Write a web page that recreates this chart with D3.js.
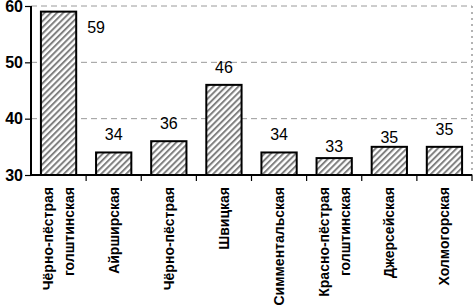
<!DOCTYPE html>
<html>
<head>
<meta charset="utf-8">
<script src="https://cdn.jsdelivr.net/npm/d3@7"></script>
<style>
  html, body { margin: 0; padding: 0; background: #fff; }
  svg { display: block; font-family: "Liberation Sans", Arial, sans-serif; }
</style>
</head>
<body>
<div id="chart"></div>
<script>
// breeds (label lines) and values
const breeds = [
  ["Чёрно-пёстрая", "голштинская"],
  ["Айрширская"],
  ["Чёрно-пёстрая"],
  ["Швицкая"],
  ["Симментальская"],
  ["Красно-пёстрая", "голштинская"],
  ["Джерсейская"],
  ["Холмогорская"],
];
const values = [59, 34, 36, 46, 34, 33, 35, 35];
const yTicks = [30, 40, 50, 60];

// small per-label vertical nudges seen in the original
const labelNudge = [0, 0, 0, 0, 0, 6, 8, 0];

const W = 475, H = 308;
const margin = { top: 6, right: 3, bottom: 133, left: 31 };

const svg = d3.select("#chart").append("svg").attr("width", W).attr("height", H);

const defs = svg.append("defs");
const pat = defs.append("pattern")
  .attr("id", "hatch").attr("patternUnits", "userSpaceOnUse")
  .attr("width", 4.4).attr("height", 4.4)
  .attr("patternTransform", "rotate(45)");
pat.append("rect").attr("width", 4.4).attr("height", 4.4).attr("fill", "#fff");
pat.append("rect").attr("width", 2).attr("height", 4.4).attr("fill", "#808080");

const idx = values.map((_, i) => i);
const x = d3.scaleBand().domain(idx)
  .range([margin.left, W - margin.right])
  .paddingInner(0.36).paddingOuter(0.18);
const y = d3.scaleLinear().domain([30, 60]).range([H - margin.bottom, margin.top]);

// gridlines
svg.append("g").selectAll("line").data(yTicks.filter(t => t > 30)).join("line")
  .attr("x1", margin.left).attr("x2", W - margin.right)
  .attr("y1", d => y(d)).attr("y2", d => y(d))
  .attr("stroke", "#9a9a9a").attr("stroke-width", 1)
  .attr("stroke-dasharray", "6,4");

// right border (dotted)
svg.append("line")
  .attr("x1", W - margin.right).attr("x2", W - margin.right)
  .attr("y1", margin.top).attr("y2", y(30))
  .attr("stroke", "#9a9a9a").attr("stroke-width", 1.5)
  .attr("stroke-dasharray", "2,4");

// bars
svg.append("g").selectAll("rect").data(values).join("rect")
  .attr("x", (d, i) => x(i))
  .attr("y", d => y(d))
  .attr("width", x.bandwidth())
  .attr("height", d => y(30) - y(d))
  .attr("fill", "url(#hatch)")
  .attr("stroke", "#000").attr("stroke-width", 2);

// value labels
svg.append("g").selectAll("text").data(values).join("text")
  .attr("x", (d, i) => i === 0 ? x(i) + x.bandwidth() + 11 : x(i) + x.bandwidth() / 2)
  .attr("y", (d, i) => i === 0 ? y(d) + 21 : y(d) - 12 + labelNudge[i])
  .attr("text-anchor", (d, i) => i === 0 ? "start" : "middle")
  .attr("font-size", 16)
  .attr("fill", "#000")
  .text(d => d);

// y axis
const yAxis = svg.append("g").attr("transform", `translate(${margin.left},0)`)
  .call(d3.axisLeft(y).tickValues(yTicks).tickSize(6).tickPadding(2).tickFormat(d3.format("d")));
yAxis.select(".domain").attr("stroke", "#000").attr("stroke-width", 2)
  .attr("d", `M0,${y(60)}V${y(30)}`);
yAxis.selectAll(".tick line").attr("stroke", "#000").attr("stroke-width", 1.2);
yAxis.selectAll(".tick text")
  .attr("font-family", "'Liberation Sans', Arial, sans-serif")
  .attr("font-size", 16).attr("font-weight", "bold").attr("fill", "#000");

// x axis line and boundary ticks
const x0 = margin.left, x1 = W - margin.right, yb = y(30);
svg.append("line").attr("x1", x0 - 1).attr("x2", x1).attr("y1", yb).attr("y2", yb)
  .attr("stroke", "#000").attr("stroke-width", 2);
svg.append("g").selectAll("line").data(d3.range(1, values.length + 1)).join("line")
  .attr("x1", k => x0 + k * x.step()).attr("x2", k => x0 + k * x.step())
  .attr("y1", yb).attr("y2", yb + 6)
  .attr("stroke", "#000").attr("stroke-width", 1.2);

// category labels (rotated)
const lineGap = 21;
const cat = svg.append("g").selectAll("g").data(breeds).join("g")
  .attr("transform", (d, i) => `translate(${x(i) + x.bandwidth() / 2},187)`);
cat.each(function (lines) {
  const g = d3.select(this);
  lines.forEach((t, j) => {
    const off = (j - (lines.length - 1) / 2) * lineGap;
    g.append("text")
      .attr("transform", `translate(${off},0) rotate(-90)`)
      .attr("text-anchor", "end")
      .attr("dy", "0.36em")
      .attr("font-size", 14).attr("font-weight", "bold").attr("fill", "#000")
      .text(t);
  });
});
</script>
</body>
</html>
